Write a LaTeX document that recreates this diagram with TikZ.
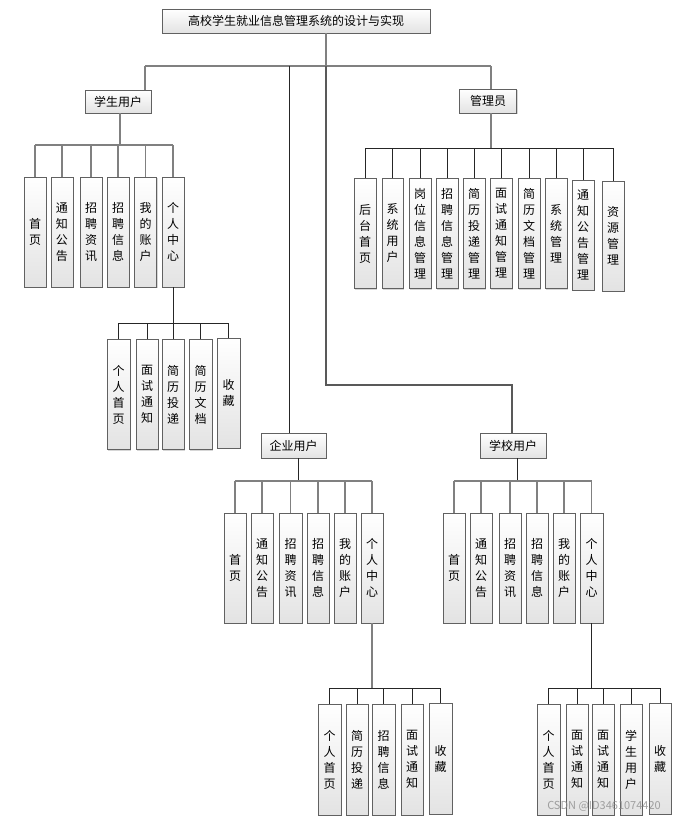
\documentclass[tikz,border=0pt]{standalone}
\usepackage{fontspec}
\newfontfamily\cjk{Noto Sans CJK SC}
\usetikzlibrary{shadows}
\begin{document}
\begin{tikzpicture}[x=1pt,y=-1pt,
  box/.style={draw=black!62, line width=0.9pt, top color=white, bottom color=black!11,
    inner sep=0pt, align=center, font=\cjk\fontsize{12}{16}\selectfont,
    drop shadow={shadow xshift=1.3pt, shadow yshift=-1.3pt, fill=black!35, opacity=0.45}},
  hb/.style={box, minimum height=24pt},
  vb/.style={box, minimum width=22pt, minimum height=110pt},
  ln/.style={draw=black!50, line width=1.3pt},
  dk/.style={draw=black!85, line width=0.9pt},
  wm/.style={font=\cjk\fontsize{11}{13}\selectfont, text=black!45, opacity=0.8}]
\fill[white] (0,0) rectangle (685,820);
\useasboundingbox (0,0) rectangle (685,820);

% ---- top level ----
\node[hb, minimum width=268pt] (title) at (296,21) {高校学生就业信息管理系统的设计与实现};
\node[hb, minimum width=66pt, minimum height=23pt] (stu) at (118,101.5) {学生用户};
\node[hb, minimum width=57pt] (adm) at (488,101) {管理员};
\node[hb, minimum width=65pt, minimum height=25pt] (ent) at (293.5,445.5) {企业用户};
\node[hb, minimum width=66pt, minimum height=25pt] (sch) at (513,445.5) {学校用户};

% ---- student children ----
\node[vb] (s1) at (35,232) {首\\页};
\node[vb] (s2) at (62,232) {通\\知\\公\\告};
\node[vb] (s3) at (91,232) {招\\聘\\资\\讯};
\node[vb] (s4) at (118,232) {招\\聘\\信\\息};
\node[vb] (s5) at (145.5,232) {我\\的\\账\\户};
\node[vb] (s6) at (173,232) {个\\人\\中\\心};

\node[vb, minimum width=23pt] (p1) at (118.5,394.5) {个\\人\\首\\页};
\node[vb] (p2) at (147,394.5) {面\\试\\通\\知};
\node[vb] (p3) at (173,394.5) {简\\历\\投\\递};
\node[vb, minimum width=23pt] (p4) at (200.5,394.5) {简\\历\\文\\档};
\node[vb, minimum width=23pt] (p5) at (228.5,393) {收\\藏};

% ---- admin children ----
\node[vb] (a1) at (365,233.5) {后\\台\\首\\页};
\node[vb, minimum width=21pt] (a2) at (392.5,233.5) {系\\统\\用\\户};
\node[vb] (a3) at (420,233.5) {岗\\位\\信\\息\\管\\理};
\node[vb] (a4) at (447,233.5) {招\\聘\\信\\息\\管\\理};
\node[vb] (a5) at (474,233.5) {简\\历\\投\\递\\管\\理};
\node[vb] (a6) at (501,233.5) {面\\试\\通\\知\\管\\理};
\node[vb] (a7) at (529,233.5) {简\\历\\文\\档\\管\\理};
\node[vb] (a8) at (556,233.5) {系\\统\\管\\理};
\node[vb] (a9) at (583,235) {通\\知\\公\\告\\管\\理};
\node[vb] (a10) at (613,236) {资\\源\\管\\理};

% ---- enterprise children ----
\node[vb] (e1) at (235,568) {首\\页};
\node[vb] (e2) at (262,568) {通\\知\\公\\告};
\node[vb, minimum width=23pt] (e3) at (290.5,568) {招\\聘\\资\\讯};
\node[vb] (e4) at (318,568) {招\\聘\\信\\息};
\node[vb] (e5) at (345,568) {我\\的\\账\\户};
\node[vb] (e6) at (372,568) {个\\人\\中\\心};

\node[vb, minimum width=23pt, minimum height=111pt] (f1) at (329.5,759.5) {个\\人\\首\\页};
\node[vb, minimum height=111pt] (f2) at (357,759.5) {简\\历\\投\\递};
\node[vb, minimum width=23pt, minimum height=111pt] (f3) at (383.5,759.5) {招\\聘\\信\\息};
\node[vb, minimum height=111pt] (f4) at (412,759.5) {面\\试\\通\\知};
\node[vb, minimum width=23pt, minimum height=111pt] (f5) at (440.5,758.5) {收\\藏};

% ---- school children ----
\node[vb] (c1) at (454,568) {首\\页};
\node[vb] (c2) at (481,568) {通\\知\\公\\告};
\node[vb] (c3) at (510,568) {招\\聘\\资\\讯};
\node[vb] (c4) at (537,568) {招\\聘\\信\\息};
\node[vb] (c5) at (564,568) {我\\的\\账\\户};
\node[vb, minimum width=23pt] (c6) at (591.5,568) {个\\人\\中\\心};

\node[vb, minimum width=23pt, minimum height=111pt] (g1) at (548.5,759.5) {个\\人\\首\\页};
\node[vb, minimum height=111pt] (g2) at (577,759.5) {面\\试\\通\\知};
\node[vb, minimum height=111pt] (g3) at (603,759.5) {面\\试\\通\\知};
\node[vb, minimum height=111pt] (g4) at (631,759.5) {学\\生\\用\\户};
\node[vb, minimum width=22pt, minimum height=111pt] (g5) at (660,758.5) {收\\藏};

% ---- top connectors ----
\coordinate (tj) at (326,66);
\coordinate (jS) at (145,66);
\coordinate (jA) at (491,66);
\coordinate (jE) at (289,66);
\coordinate (jC) at (326,385);
\coordinate (jC2) at (512,385);
\draw[ln] (title.south -| tj) -- (tj);
\draw[ln] (jS) -- (jA);
\draw[ln] (jS) -- (stu.north -| jS);
\draw[ln] (jA) -- (adm.north -| jA);
\draw[dk] (jE) -- (ent.north -| jE);
\draw[ln, draw=black!65] (tj) -- (jC) -- (jC2) -- (sch.north -| jC2);

% ---- student ----
\coordinate (bS) at (120,145);
\draw[ln] (stu.south -| bS) -- (bS);
\draw[ln] (s1.north |- bS) -- (s6.north |- bS);
\foreach \i in {1,...,6} \draw[ln] (s\i.north) -- (s\i.north |- bS);
\coordinate (bP) at (173,323);
\draw[dk] (s6.south) -- (bP);
\draw[dk] (p1.north |- bP) -- (p5.north |- bP);
\foreach \i in {1,...,5} \draw[dk] (p\i.north) -- (p\i.north |- bP);

% ---- admin ----
\coordinate (bA) at (491,148);
\draw[ln] (adm.south -| bA) -- (bA);
\draw[dk] (a1.north |- bA) -- (a10.north |- bA);
\foreach \i in {1,...,10} \draw[dk] (a\i.north) -- (a\i.north |- bA);

% ---- enterprise ----
\coordinate (bE) at (298,481);
\draw[dk] (ent.south -| bE) -- (bE);
\draw[ln] (e1.north |- bE) -- (e6.north |- bE);
\foreach \i in {1,...,6} \draw[ln] (e\i.north) -- (e\i.north |- bE);
\coordinate (bF) at (372,688);
\draw[ln] (e6.south) -- (bF);
\draw[dk] (f1.north |- bF) -- (f5.north |- bF);
\foreach \i in {1,...,5} \draw[dk] (f\i.north) -- (f\i.north |- bF);

% ---- school ----
\coordinate (bC) at (517,481);
\draw[dk] (sch.south -| bC) -- (bC);
\draw[ln] (c1.north |- bC) -- (c6.north |- bC);
\foreach \i in {1,...,6} \draw[ln] (c\i.north) -- (c\i.north |- bC);
\coordinate (bG) at (591.5,688);
\draw[dk] (c6.south) -- (bG);
\draw[dk] (g1.north |- bG) -- (g5.north |- bG);
\foreach \i in {1,...,5} \draw[dk] (g\i.north) -- (g\i.north |- bG);

% ---- watermark ----
\node[wm] (wmark) at (604,806) {CSDN @ID3461074420};
\end{tikzpicture}
\end{document}
